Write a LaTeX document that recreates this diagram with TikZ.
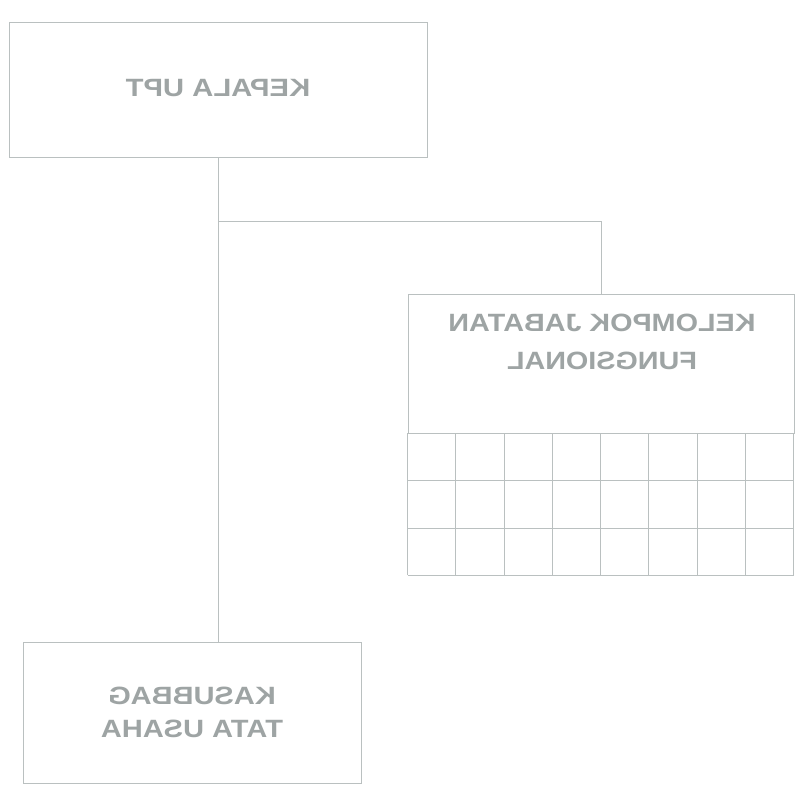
\documentclass[tikz,border=0pt]{standalone}
\usepackage{fontspec}
\setmainfont{Liberation Sans}
\usepackage{graphicx}
\definecolor{linec}{RGB}{186,192,192}
\definecolor{textc}{RGB}{158,164,164}
\newcommand{\mirtext}[2]{\scalebox{-#1}[1]{#2}}
\tikzset{
  orgbox/.style={draw=linec, line width=0.9pt, fill=none, inner sep=0pt},
  conn/.style={draw=linec, line width=0.9pt},
  gridline/.style={draw=linec, line width=0.9pt},
  lbl/.style={text=textc, font=\bfseries\fontsize{25}{33}\selectfont, align=center, inner sep=0pt}
}
\begin{document}
\begin{tikzpicture}[x=1pt,y=1pt]
\path[use as bounding box, fill=white] (0,0) rectangle (800,-793);
% boxes
\node[orgbox, minimum width=418pt, minimum height=135pt] (kepala) at (218,-89.5) {};
\node[orgbox, minimum width=338pt, minimum height=141pt] (kasubbag) at (192,-712.5) {};
\node[orgbox, minimum width=386pt, minimum height=139pt] (kjf) at (601,-363.5) {};
% texts
\node[lbl] (kepalatext) at (218,-88.5) {\mirtext{1.17}{KEPALA UPT}};
\node[lbl] (kasubbagtext) at (192,-714.5) {\mirtext{1.16}{\begin{tabular}{@{}c@{}}KASUBBAG\\TATA USAHA\end{tabular}}};
\node[lbl] (kjftext) at (602,-343) {\mirtext{1.15}{\fontsize{25}{38}\selectfont\begin{tabular}{@{}c@{}}KELOMPOK JABATAN\\FUNGSIONAL\end{tabular}}};
% grid below the functional group box
\coordinate (gsw) at (408,-575);
\foreach \i in {0,...,8} {
  \draw[gridline] ([xshift=\i*48.25pt]kjf.south west) -- ([xshift=\i*48.25pt]kjf.south west |- gsw);
}
\foreach \j in {1,2,3} {
  \draw[gridline] ([yshift=-\j*47.33pt]kjf.south west) -- ([yshift=-\j*47.33pt]kjf.south east);
}
% connectors
\coordinate (branch) at (218,-221);
\draw[conn] (kepala.south) -- (kepala.south |- kasubbag.north);
\draw[conn] (kepala.south |- branch) -| (kjf.north);
\end{tikzpicture}
\end{document}
